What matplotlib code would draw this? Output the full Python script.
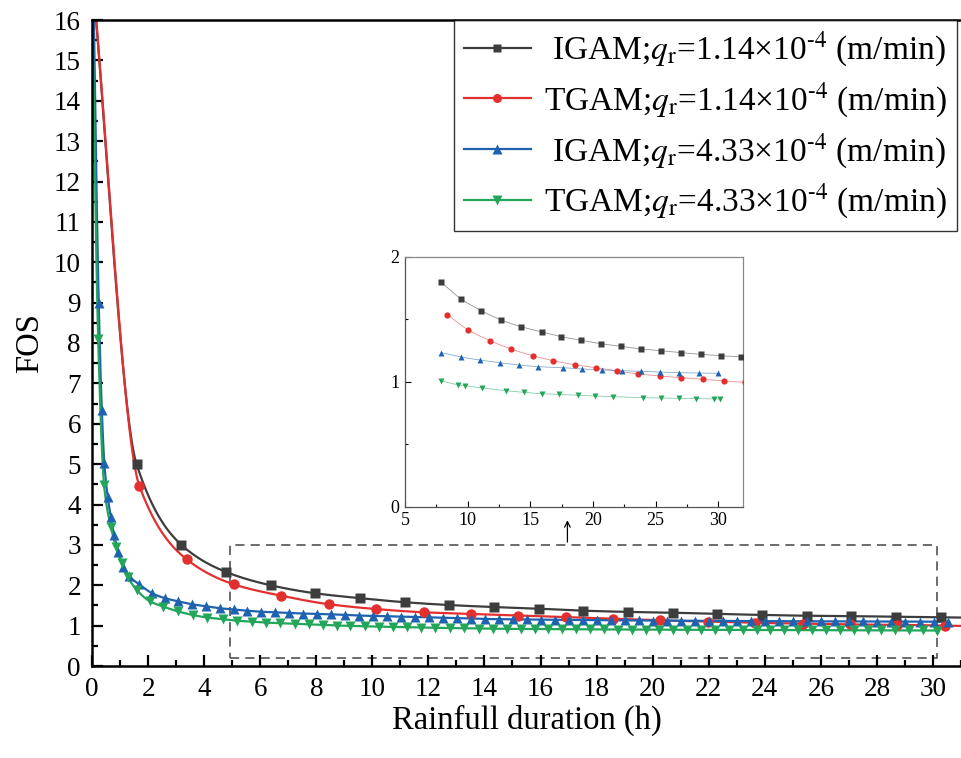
import numpy as np
import matplotlib
matplotlib.use("Agg")
import matplotlib.pyplot as plt
from matplotlib.ticker import MultipleLocator
from matplotlib.patches import Rectangle

plt.rcParams['font.family'] = ['Liberation Serif', 'DejaVu Serif']
plt.rcParams['mathtext.fontset'] = 'stix'

# ---- main chart data ----
igam1_x = [0, 1.59, 3.19, 4.78, 6.37, 7.97, 9.56, 11.15, 12.74, 14.34, 15.93,
           17.52, 19.12, 20.71, 22.3, 23.9, 25.49, 27.08, 28.67, 30.27, 31.86]
igam1_y = [17.2, 5.0, 3.0, 2.33, 2.0, 1.80, 1.68, 1.58, 1.51, 1.46, 1.42,
           1.37, 1.34, 1.32, 1.29, 1.265, 1.245, 1.235, 1.22, 1.205, 1.195]

tgam1_x = [0, 1.69, 3.38, 5.07, 6.76, 8.45, 10.14, 11.83, 13.52, 15.21, 16.9,
           18.59, 20.28, 21.97, 23.66, 25.35, 27.04, 28.73, 30.42, 32.11]
tgam1_y = [17.2, 4.46, 2.64, 2.02, 1.74, 1.53, 1.41, 1.33, 1.29, 1.25, 1.21,
           1.17, 1.13, 1.10, 1.07, 1.05, 1.03, 1.02, 1.0, 0.98]

igam4_x = [0, 0.24, 0.35, 0.44, 0.56, 0.67, 0.79, 0.94, 1.12, 1.33, 1.69, 2.15,
           2.6, 3.08, 3.56, 4.06, 4.56, 5.05, 5.53, 6.02, 6.52, 7.02, 7.52, 8.02,
           8.52, 9.02, 9.52, 10.02, 10.52, 11.02, 11.52, 12.02, 12.52, 13.02,
           13.52, 14.02, 14.52, 15.02, 15.52, 16.02, 16.52, 17.02, 17.52, 18.02,
           18.52, 19.02, 19.52, 20.02, 20.52, 21.02, 21.52, 22.02, 22.52, 23.02,
           23.52, 24.02, 24.52, 25.02, 25.52, 26.02, 26.52, 27.02, 27.52, 28.02,
           28.52, 29.02, 29.52, 30.02, 30.52]
igam4_y = [19.0, 8.98, 6.34, 5.02, 4.19, 3.70, 3.24, 2.83, 2.46, 2.22, 2.02, 1.80,
           1.68, 1.60, 1.53, 1.48, 1.43, 1.40, 1.37, 1.345, 1.33, 1.315, 1.30, 1.29,
           1.28, 1.265, 1.25, 1.24, 1.232, 1.224, 1.215, 1.205, 1.195, 1.185,
           1.175, 1.165, 1.16, 1.156, 1.152, 1.148, 1.145, 1.142, 1.139, 1.136,
           1.133, 1.13, 1.128, 1.126, 1.124, 1.122, 1.12, 1.118, 1.116, 1.114,
           1.112, 1.11, 1.109, 1.108, 1.107, 1.106, 1.105, 1.104, 1.103, 1.102,
           1.101, 1.10, 1.099, 1.098, 1.097]

tgam4_x = [0, 0.22, 0.43, 0.67, 0.86, 1.06, 1.27, 1.6, 2.07, 2.55, 3.08, 3.62,
           4.12, 4.67, 5.19, 5.7, 6.22, 6.72, 7.24, 7.74, 8.24, 8.74, 9.22, 9.74,
           10.25, 10.75, 11.24, 11.74, 12.25, 12.77, 13.28, 13.8, 14.3, 14.8,
           15.29, 15.79, 16.28, 16.78, 17.27, 17.77, 18.26, 18.76, 19.25, 19.75,
           20.24, 20.74, 21.23, 21.73, 22.22, 22.72, 23.21, 23.71, 24.2, 24.7,
           25.19, 25.69, 26.18, 26.68, 27.17, 27.67, 28.16, 28.66, 29.15, 29.65,
           30.14]
tgam4_y = [16.8, 8.09, 4.48, 3.45, 2.95, 2.54, 2.21, 1.88, 1.60, 1.47, 1.35, 1.26,
           1.20, 1.16, 1.12, 1.10, 1.075, 1.06, 1.045, 1.03, 1.015, 1.003, 0.993,
           0.983, 0.975, 0.967, 0.96, 0.953, 0.946, 0.94, 0.934, 0.928, 0.923,
           0.92, 0.918, 0.916, 0.914, 0.912, 0.91, 0.908, 0.906, 0.904, 0.902,
           0.90, 0.899, 0.898, 0.897, 0.896, 0.895, 0.894, 0.893, 0.892, 0.891,
           0.89, 0.889, 0.888, 0.887, 0.886, 0.885, 0.884, 0.883, 0.882, 0.881,
           0.88, 0.879]

# ---- inset data ----
in_igam1_x = [7.9, 9.45, 11.1, 12.67, 14.27, 15.9, 17.46, 19.06, 20.66, 22.2,
              23.85, 25.45, 27.05, 28.65, 30.2, 31.85]
in_igam1_y = [1.795, 1.664, 1.568, 1.494, 1.44, 1.398, 1.36, 1.331, 1.304, 1.283,
              1.262, 1.248, 1.232, 1.219, 1.208, 1.198]
in_tgam1_x = [8.38, 10.06, 11.8, 13.45, 15.18, 16.84, 18.53, 20.27, 21.92, 23.6,
              25.33, 27.04, 28.77, 30.45, 32.1]
in_tgam1_y = [1.536, 1.413, 1.328, 1.262, 1.208, 1.168, 1.136, 1.112, 1.086,
              1.062, 1.046, 1.032, 1.019, 1.006, 0.995]
in_igam4_x = [7.9, 9.45, 11.0, 12.55, 14.1, 15.6, 17.6, 19.15, 20.73, 22.3, 23.8,
              25.37, 26.9, 28.5, 30.0]
in_igam4_y = [1.232, 1.198, 1.173, 1.152, 1.134, 1.12, 1.112, 1.102, 1.094,
              1.088, 1.083, 1.078, 1.072, 1.07, 1.067]
in_tgam4_x = [7.85, 9.2, 9.77, 11.15, 13.05, 14.5, 15.92, 17.33, 18.77, 20.18,
              21.59, 23.99, 25.42, 26.83, 28.24, 29.68, 30.16]
in_tgam4_y = [1.008, 0.976, 0.968, 0.95, 0.928, 0.915, 0.904, 0.899, 0.891,
              0.886, 0.88, 0.872, 0.87, 0.867, 0.864, 0.862, 0.862]

labels = [r' IGAM;$q_\mathrm{r}$=1.14×10$^{\text{-4}}$ (m/min)',
          r'TGAM;$q_\mathrm{r}$=1.14×10$^{\text{-4}}$ (m/min)',
          r' IGAM;$q_\mathrm{r}$=4.33×10$^{\text{-4}}$ (m/min)',
          r'TGAM;$q_\mathrm{r}$=4.33×10$^{\text{-4}}$ (m/min)']
colors = ['#3d3d3d', '#e3302f', '#1f63b0', '#23a65a']
markers = ['s', 'o', '^', 'v']


def smooth(x, y, num=3000):
    # monotone cubic curve through the points (like Origin's spline connect)
    x = np.asarray(x, float)
    y = np.asarray(y, float)
    h = np.diff(x)
    d = np.diff(y) / h
    m = np.zeros_like(y)
    m[0], m[-1] = d[0], d[-1]
    for k in range(1, len(x) - 1):
        if d[k - 1] * d[k] > 0:
            w1 = 2 * h[k] + h[k - 1]
            w2 = h[k] + 2 * h[k - 1]
            m[k] = (w1 + w2) / (w1 / d[k - 1] + w2 / d[k])
    xs = np.linspace(x[0], x[-1], num)
    i = np.clip(np.searchsorted(x, xs) - 1, 0, len(h) - 1)
    t = (xs - x[i]) / h[i]
    ys = ((2 * t**3 - 3 * t**2 + 1) * y[i] + (t**3 - 2 * t**2 + t) * h[i] * m[i]
          + (-2 * t**3 + 3 * t**2) * y[i + 1] + (t**3 - t**2) * h[i] * m[i + 1])
    return xs, ys


fig = plt.figure(figsize=(9.61, 7.58), dpi=100)
ax = fig.add_axes([92 / 961, 92 / 758, 869 / 961, 646 / 758])

main = [(igam1_x, igam1_y), (tgam1_x, tgam1_y), (igam4_x, igam4_y), (tgam4_x, tgam4_y)]
handles = []
for (xx, yy), c, mk, lab in zip(main, colors, markers, labels):
    xs, ys = smooth(xx, yy)
    ax.plot(xs, ys, color=c, lw=1.6, zorder=2)
    ax.plot(xx, yy, ls='none', marker=mk, ms=7.5 if mk != 's' else 7,
            color=c, mec='none', zorder=3)
    h, = ax.plot([], [], color=c, lw=1.6, marker=mk, ms=6.5 if mk != 's' else 6,
                 mec='none', label=lab)
    handles.append(h)

ax.set_xlim(0, 31)
ax.set_ylim(0, 16)
ax.xaxis.set_major_locator(MultipleLocator(2))
ax.xaxis.set_minor_locator(MultipleLocator(1))
ax.yaxis.set_major_locator(MultipleLocator(1))
ax.yaxis.set_minor_locator(MultipleLocator(0.5))
ax.tick_params(which='both', direction='in', width=1.6, labelsize=19.5, top=False, right=False)
ax.tick_params(which='major', length=8, pad=8)
ax.tick_params(which='minor', length=4)
for s in ['left', 'bottom', 'top']:
    ax.spines[s].set_linewidth(1.8)
ax.spines['right'].set_visible(False)
ax.set_xlabel('Rainfull duration (h)', fontsize=23.5, labelpad=2)
ax.set_ylabel('FOS', fontsize=23.5, labelpad=6)

leg = ax.legend(handles=handles, loc='upper right', bbox_to_anchor=(0.995, 1.0),
                borderaxespad=0, fontsize=24, frameon=True, fancybox=False,
                edgecolor='black', handlelength=2.0, handletextpad=0.4,
                labelspacing=0.35, borderpad=0.3)
leg.get_frame().set_linewidth(1.0)

# dashed zoom box and arrow to the inset
ax.add_patch(Rectangle((4.93, 0.19), 30.14 - 4.93, 3.0 - 0.19, fill=False,
                       ls=(0, (6, 4)), lw=1.1, ec='#444444', zorder=1))
ax.annotate('', xy=(16.96, 3.68), xytext=(16.96, 3.0),
            arrowprops=dict(arrowstyle='->', lw=0.9, color='black'))

# inset
ins = fig.add_axes([405 / 961, (758 - 506.7) / 758, 338.3 / 961, 250 / 758])
inset = [(in_igam1_x, in_igam1_y), (in_tgam1_x, in_tgam1_y),
         (in_igam4_x, in_igam4_y), (in_tgam4_x, in_tgam4_y)]
for (xx, yy), c, mk in zip(inset, colors, markers):
    xs, ys = smooth(xx, yy, 800)
    ins.plot(xs, ys, color=c, lw=0.6, alpha=0.55, zorder=2)
    ins.plot(xx, yy, ls='none', marker=mk, ms=4.5, color=c, mec='none', zorder=3)
ins.set_xlim(5, 32)
ins.set_ylim(0, 2)
ins.xaxis.set_major_locator(MultipleLocator(5))
ins.xaxis.set_minor_locator(MultipleLocator(2.5))
ins.yaxis.set_major_locator(MultipleLocator(1))
ins.yaxis.set_minor_locator(MultipleLocator(0.5))
ins.tick_params(which='both', direction='in', width=0.8, labelsize=13, top=False, right=False)
ins.tick_params(which='major', length=4, pad=4)
ins.tick_params(which='minor', length=2)
for s in ins.spines.values():
    s.set_linewidth(0.9)
    s.set_color('#555555')
ins.spines['top'].set_color('#888888')
ins.spines['right'].set_color('#888888')

fig.savefig('out.png', dpi=100)
